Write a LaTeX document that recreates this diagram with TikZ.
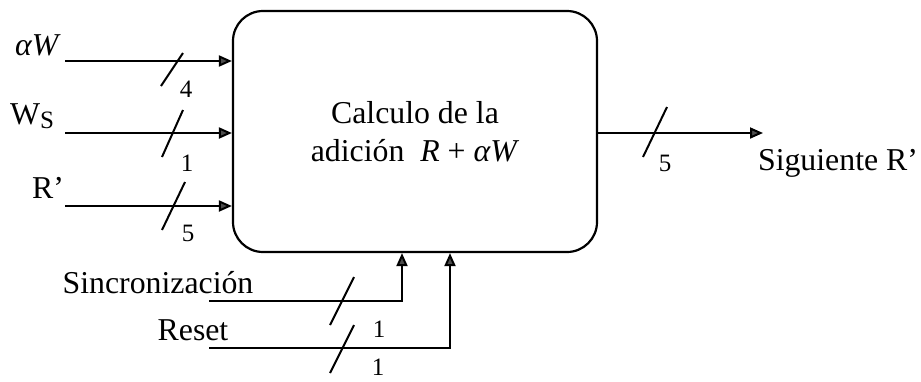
\documentclass[tikz,border=0pt]{standalone}
\usepackage{fontspec}
\setmainfont{Liberation Serif}
\usetikzlibrary{arrows.meta,positioning,calc}

\begin{document}
\begin{tikzpicture}[
    x=0.5pt, y=-0.5pt,
    font=\fontsize{15.9}{18}\selectfont,
    block/.style={rectangle, draw, line width=1.1pt, rounded corners=15pt, align=center, minimum width=182pt, minimum height=120.5pt, inner sep=0pt},
    arrow/.style={-{Triangle[length=6.5pt, width=5.5pt, fill=black!70]}, line width=1pt},
    bus/.style={line width=1pt},
    width/.style={font=\fontsize{12.5}{14}\selectfont, inner sep=0pt}
]
\useasboundingbox (0,0) rectangle (921,381);

% Main block
\node[block] (calc) at (415,131.5) {Calculo de la\\[1pt] adición\ \ \textit{R} + \textit{αW}};

% Inputs
\coordinate (aw) at (65,61);
\coordinate (ws) at (65,133);
\coordinate (rp) at (65,206);
\node (aw_lbl) at (38,45) {\textit{αW}};
\node (ws_lbl) at (32,116) {W\raisebox{-0.25ex}{\fontsize{12.5}{14}\selectfont S}};
\node (rp_lbl) at (48,188) {R’};

\draw[arrow] (aw) -- (aw -| calc.west);
\draw[arrow] (ws) -- (ws -| calc.west);
\draw[arrow] (rp) -- (rp -| calc.west);

% Output
\coordinate (out) at (763,133);
\draw[arrow] (out -| calc.east) -- (out);
\node (out_lbl) at (838,163) {Siguiente R’};

% Control inputs
\coordinate (sinc) at (209,301);
\coordinate (rst) at (209,348);
\node (sinc_lbl) at (158,283) {Sincronización};
\node (rst_lbl) at (193,330) {Reset};
\draw[arrow] (sinc) -| ($(calc.south)+(-13,0)$);
\draw[arrow] (rst) -| ($(calc.south)+(35,0)$);

% Bus widths
\draw[bus] (161,86) -- (183,53);
\draw[bus] (162,157) -- (183,110);
\draw[bus] (162,230) -- (185,182);
\draw[bus] (643,157) -- (667,107);
\draw[bus] (330,325) -- (354,277);
\draw[bus] (330,373) -- (354,325);

\node[width] (aw_n) at (186,89) {4};
\node[width] (ws_n) at (187,163) {1};
\node[width] (rp_n) at (188,233) {5};
\node[width] (out_n) at (665,163) {5};
\node[width] (sinc_n) at (379,329) {1};
\node[width] (rst_n) at (378,367) {1};

\end{tikzpicture}
\end{document}
